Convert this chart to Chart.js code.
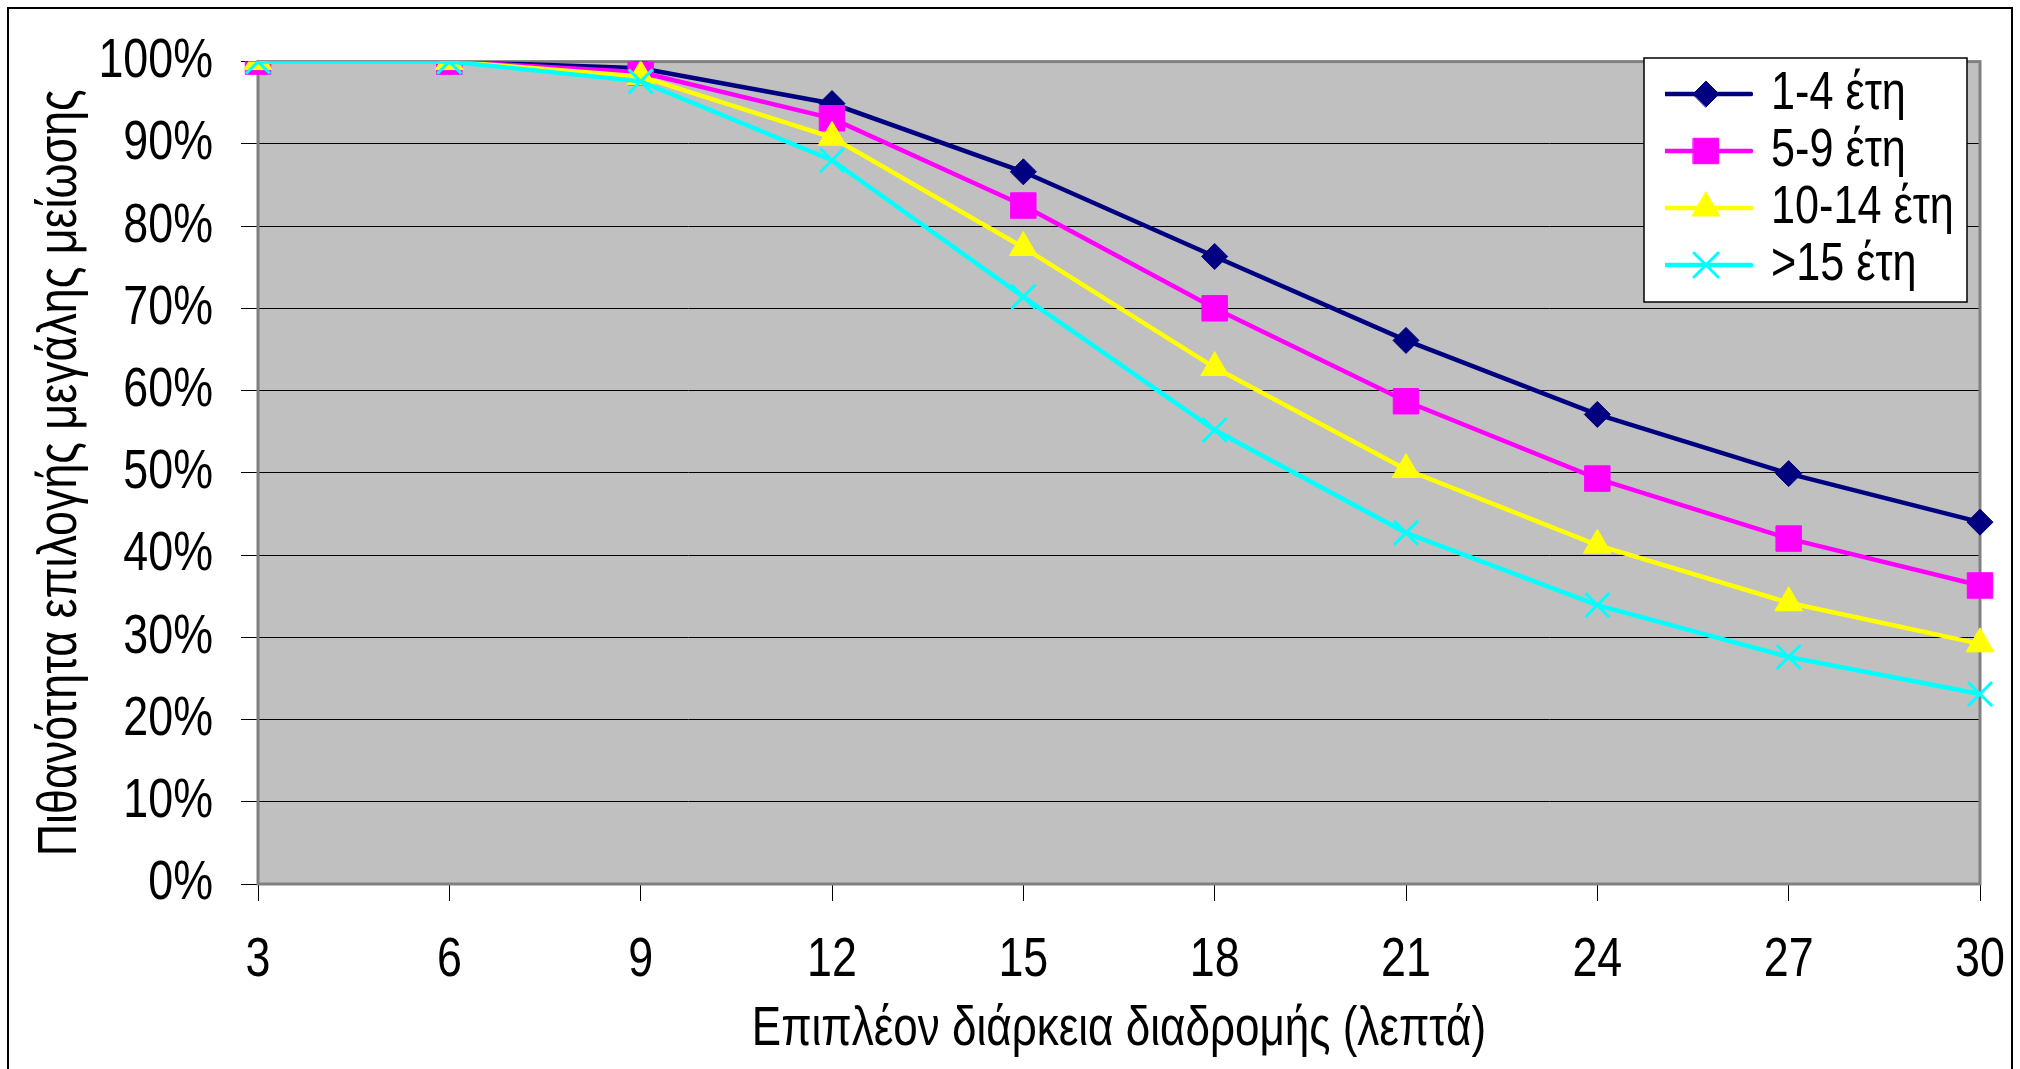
<!DOCTYPE html>
<html>
<head>
<meta charset="utf-8">
<script src="https://cdn.jsdelivr.net/npm/chart.js@4.4.1/dist/chart.umd.min.js"></script>
<style>
  html, body { margin: 0; padding: 0; background: #fff; overflow: hidden; }
  #wrap { position: relative; width: 2020px; height: 1069px; }
  #frame { position: absolute; left: 7px; top: 7px; width: 2006px; height: 1100px;
           border: 2px solid #000; box-sizing: border-box; pointer-events: none; }
</style>
</head>
<body>
<div id="wrap">
  <canvas id="chart" width="2020" height="1069"></canvas>
  <div id="frame"></div>
</div>
<script>
// Chart data
const minutes = ["3", "6", "9", "12", "15", "18", "21", "24", "27", "30"];
const years1to4 = [100, 100, 99.2, 94.9, 86.6, 76.3, 66.1, 57.1, 49.9, 44.0];
const years5to9 = [100, 100, 98.7, 93.1, 82.5, 70.0, 58.7, 49.3, 42.0, 36.3];
const years10to14 = [100, 100, 98.2, 90.8, 77.4, 62.8, 50.4, 41.2, 34.2, 29.2];
const years15plus = [100, 100, 97.6, 88.0, 71.4, 55.2, 42.7, 33.9, 27.6, 23.1];
const seriesLabels = ["1-4 έτη", "5-9 έτη", "10-14 έτη", ">15 έτη"];
const yTicks = [0, 10, 20, 30, 40, 50, 60, 70, 80, 90, 100];

Chart.defaults.font.family = "'Liberation Sans', Arial, sans-serif";
Chart.defaults.color = "#000";

// the original uses a narrow face; squeeze text horizontally
const NARROW = 0.8;
const canvas = document.getElementById("chart");
const ctx2d = canvas.getContext("2d");
const origFill = ctx2d.fillText.bind(ctx2d);
const origMeasure = ctx2d.measureText.bind(ctx2d);
ctx2d.fillText = function (t, x, y) {
    this.save();
    this.translate(x, y);
    this.scale(NARROW, 1);
    origFill(t, 0, 0);
    this.restore();
};
ctx2d.measureText = function (t) {
    const m = origMeasure(t);
    return { width: m.width * NARROW, actualBoundingBoxAscent: m.actualBoundingBoxAscent, actualBoundingBoxDescent: m.actualBoundingBoxDescent };
};

const styles = [
    { color: "#000080", point: "rectRot", radius: 13, bw: 1 },
    { color: "#FF00FF", point: "rect", radius: 18, bw: 1 },
    { color: "#FFFF00", point: "triangle", radius: 16, bw: 1 },
    { color: "#00FFFF", point: "crossRot", radius: 17, bw: 3 }
];

// legend glyph: line with marker in the middle
function legendGlyph(s) {
    const c = document.createElement("canvas");
    c.width = 94; c.height = 40;
    const ctx = c.getContext("2d");
    ctx.strokeStyle = s.color;
    ctx.lineWidth = 4.5;
    ctx.lineCap = "round";
    ctx.beginPath();
    ctx.moveTo(2, 20); ctx.lineTo(92, 20);
    ctx.stroke();
    ctx.fillStyle = s.color;
    ctx.lineWidth = s.bw;
    Chart.helpers.drawPoint(ctx, { pointStyle: s.point, radius: s.radius, borderWidth: s.bw, rotation: 0 }, 47, 20);
    return c;
}
const glyphs = styles.map(legendGlyph);

function makeSet(label, data, s, order) {
    return {
        label: label,
        data: data,
        borderColor: s.color,
        backgroundColor: s.color,
        borderWidth: 4.5,
        pointStyle: s.point,
        pointRadius: s.radius,
        pointHoverRadius: s.radius,
        pointBorderWidth: s.bw,
        pointBackgroundColor: s.color,
        pointBorderColor: s.color,
        tension: 0,
        order: order
    };
}

const plotFrame = {
    id: "plotFrame",
    beforeDraw(chart) {
        const a = chart.chartArea, ctx = chart.ctx;
        ctx.save();
        ctx.fillStyle = "#C0C0C0";
        ctx.fillRect(a.left, a.top, a.right - a.left, a.bottom - a.top);
        ctx.restore();
    },
    beforeDatasetsDraw(chart) {
        const a = chart.chartArea, ctx = chart.ctx;
        ctx.save();
        ctx.strokeStyle = "#808080";
        ctx.lineWidth = 3;
        ctx.strokeRect(a.left, a.top, a.right - a.left, a.bottom - a.top);
        ctx.restore();
    },
    afterLayout(chart) {
        const lg = chart.legend;
        if (!lg) return;
        lg.left = 1665; lg.top = 64;
        lg.right = lg.left + lg.width; lg.bottom = lg.top + lg.height;
    },
    afterDraw(chart) {
        const ctx = chart.ctx;
        ctx.save();
        ctx.fillStyle = "#fff";
        ctx.fillRect(1644, 58, 323, 244);
        ctx.strokeStyle = "#000";
        ctx.lineWidth = 1.5;
        ctx.strokeRect(1644, 58, 323, 244);
        ctx.restore();
        chart.legend.draw(chart.chartArea);
    }
};

new Chart(canvas, {
    type: "line",
    data: {
        labels: minutes,
        datasets: [
            makeSet(seriesLabels[0], years1to4, styles[0], 3),
            makeSet(seriesLabels[1], years5to9, styles[1], 2),
            makeSet(seriesLabels[2], years10to14, styles[2], 1),
            makeSet(seriesLabels[3], years15plus, styles[3], 0)
        ]
    },
    options: {
        responsive: false,
        animation: false,
        devicePixelRatio: 1,
        events: [],
        layout: { padding: { left: 0, top: 58, right: 40, bottom: 0 } },
        plugins: {
            tooltip: { enabled: false },
            legend: {
                position: "chartArea",
                align: "start",
                labels: {
                    font: { size: 54 },
                    color: "#000",
                    padding: 3,
                    usePointStyle: true,
                    pointStyleWidth: 76,
                    sort: (a, b) => a.datasetIndex - b.datasetIndex,
                    generateLabels(chart) {
                        const items = Chart.defaults.plugins.legend.labels.generateLabels(chart);
                        items.forEach(it => { it.pointStyle = glyphs[it.datasetIndex]; });
                        return items;
                    }
                }
            }
        },
        scales: {
            x: {
                offset: false,
                grid: { drawOnChartArea: false, drawTicks: true, tickLength: 17, color: "#000", lineWidth: 1 },
                border: { display: false },
                ticks: { font: { size: 56 }, padding: 26, maxRotation: 0, autoSkip: false },
                title: { display: true, text: "Επιπλέον διάρκεια διαδρομής (λεπτά)", font: { size: 55 }, padding: { top: 0, bottom: 6 } },
                afterFit(scale) { scale.height = 185; scale.paddingLeft = 0; scale.paddingRight = 0; }
            },
            y: {
                min: 0,
                max: 100,
                afterBuildTicks(scale) { scale.ticks = yTicks.map(v => ({ value: v })); },
                grid: { color: "#000", lineWidth: 1, tickLength: 17 },
                border: { display: false },
                ticks: { font: { size: 56 }, padding: 28, callback: v => v + "%" },
                title: { display: true, text: "Πιθανότητα επιλογής μεγάλης μείωσης", font: { size: 56 }, padding: { top: 27, bottom: 0 } },
                afterFit(scale) { scale.width = 258; }
            }
        }
    },
    plugins: [plotFrame]
});
</script>
</body>
</html>
